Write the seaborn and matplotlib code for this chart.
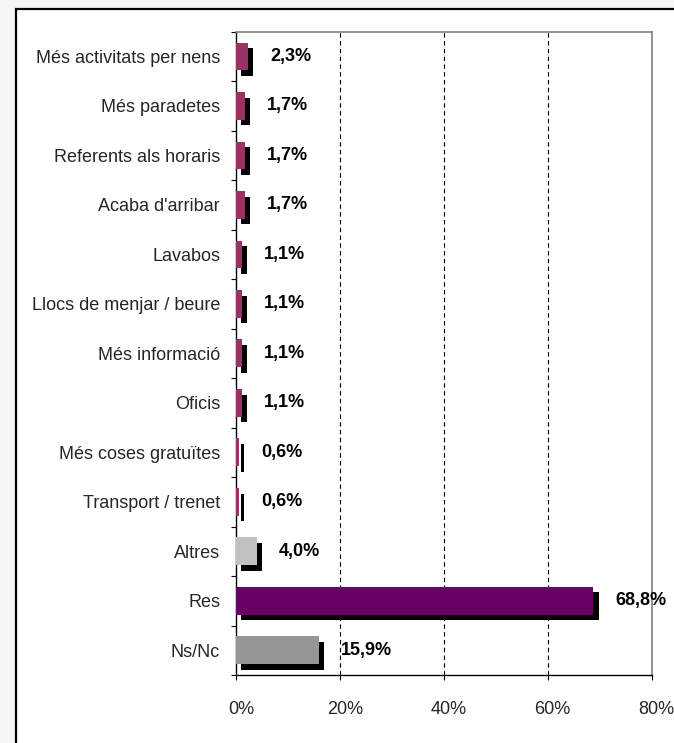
import matplotlib
matplotlib.use("Agg")
import matplotlib.pyplot as plt
import matplotlib.patheffects as pe
from matplotlib.patches import Rectangle
from matplotlib.ticker import FixedLocator
from matplotlib.transforms import ScaledTranslation
import seaborn as sns
import pandas as pd

categories = [
    "Més activitats per nens", "Més paradetes", "Referents als horaris",
    "Acaba d'arribar", "Lavabos", "Llocs de menjar / beure", "Més informació",
    "Oficis", "Més coses gratuïtes", "Transport / trenet", "Altres", "Res", "Ns/Nc",
]
values = [2.3, 1.7, 1.7, 1.7, 1.1, 1.1, 1.1, 1.1, 0.6, 0.6, 4.0, 68.8, 15.9]
bar_colors = ["#993366"] * 10 + ["#c0c0c0", "#660066", "#969696"]
x_ticks = [0, 20, 40, 60, 80]
x_tick_labels = ["0%", "20%", "40%", "60%", "80%"]

sns.set_style("white")
plt.rcParams["font.family"] = ["Liberation Sans", "DejaVu Sans"]

W, H = 674, 743
FS = 13
fig = plt.figure(figsize=(W / 100, H / 100), dpi=100, facecolor="#f6f6f6")

# white chart panel with a black border on the top and left
panel = Rectangle((16 / W, -0.1), 1.2, 1.1 - 9.5 / H, transform=fig.transFigure,
                  facecolor="white", edgecolor="black", linewidth=1.6, zorder=-10)
fig.patches.append(panel)

ax = fig.add_axes([236 / W, 1 - 675 / H, (651.5 - 236) / W, (675 - 31.7) / H])
ax.set_zorder(1)
ax.set_facecolor("none")

df = pd.DataFrame({"cat": categories, "val": values})
sns.barplot(data=df, x="val", y="cat", hue="cat", palette=bar_colors,
            legend=False, width=0.56, orient="h", saturation=1, ax=ax, zorder=3)

for p in ax.patches:
    p.set_edgecolor("none")
    p.set_path_effects([pe.SimplePatchShadow(offset=(3.8, -4.0), shadow_rgbFace="black", alpha=1.0),
                        pe.Normal()])

for i, v in enumerate(values):
    ax.annotate(f"{v:.1f}%".replace(".", ","), xy=(v, i), xytext=(16, 0),
                textcoords="offset points", ha="left", va="center",
                fontsize=FS, fontweight="bold", color="black", zorder=5)

ax.set_xlim(0, 80)
ax.set_ylim(12.5, -0.5)
ax.set_xticks(x_ticks)
ax.set_xticklabels(x_tick_labels, fontsize=FS)
ax.set_xlabel("")
ax.set_ylabel("")

# category labels centred on the bars, ticks on the boundaries
ax.set_yticks(range(len(categories)))
ax.set_yticklabels(categories, fontsize=FS)
ax.tick_params(axis="y", which="major", length=0, pad=11.5)
ax.yaxis.set_minor_locator(FixedLocator([i - 0.5 for i in range(len(categories) + 1)]))
ax.tick_params(axis="y", which="minor", length=3.6, width=0.8, color="black", direction="out", left=True)
ax.tick_params(axis="x", which="major", length=3.5, width=0.8, color="black", direction="out",
               bottom=True, pad=15.5)

shift = ScaledTranslation(5 / 100, 0, fig.dpi_scale_trans)
for lab in ax.get_xticklabels():
    lab.set_transform(lab.get_transform() + shift)

for x in [20, 40, 60]:
    ax.axvline(x, color="black", linewidth=0.8, linestyle=(0, (4, 3)), zorder=1)

for side in ["left", "bottom"]:
    ax.spines[side].set_color("black")
    ax.spines[side].set_linewidth(1.0)
for side in ["top", "right"]:
    ax.spines[side].set_color("#808080")
    ax.spines[side].set_linewidth(1.2)
    ax.spines[side].set_visible(True)

fig.savefig("out.png", dpi=100, facecolor=fig.get_facecolor())
